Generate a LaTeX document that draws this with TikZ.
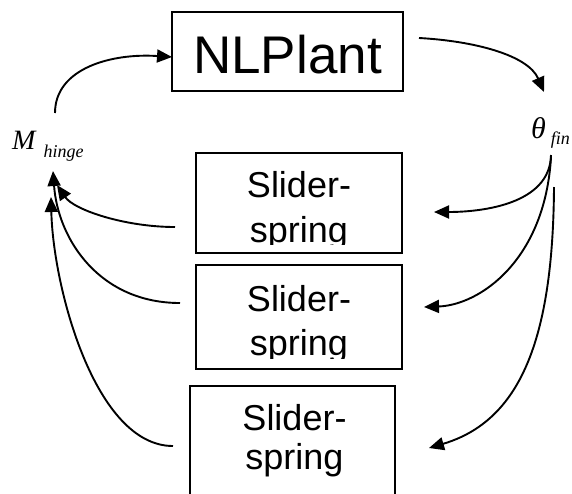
\documentclass[tikz,border=0pt]{standalone}
\usepackage{fontspec}
\setmainfont{Liberation Sans}
\newfontfamily\serifit{Liberation Serif}
\usetikzlibrary{arrows.meta}
\begin{document}
\begin{tikzpicture}[x=1pt,y=-1pt,
  conn/.style={line width=1.9pt,-{Triangle[length=15pt,width=13pt]}},
  blockbox/.style={draw,line width=1.4pt,inner sep=0pt},
  txt/.style={inner sep=0pt,anchor=base,font=\fontsize{36}{40}\selectfont},
  var/.style={inner sep=0pt,anchor=base west}]
\useasboundingbox (0,0) rectangle (572,493);

% blocks
\node[blockbox,minimum width=231pt,minimum height=79pt] (plant) at (287.5,51.5) {};
\node[inner sep=0pt,anchor=base,font=\fontsize{53}{60}\selectfont] (plantt) at (287.5,73) {NLPlant};

\node[blockbox,minimum width=206pt,minimum height=100pt] (b1) at (299,203) {};
\node[blockbox,minimum width=206pt,minimum height=104pt] (b2) at (299,317) {};
\node[blockbox,minimum width=205pt,minimum height=130pt] (b3) at (292.5,451) {};

\begin{scope}
  \clip (196,153) rectangle (402,244);
  \node[txt] (b1a) at (299,197) {Slider-};
  \node[txt] (b1b) at (299,242) {spring};
\end{scope}
\begin{scope}
  \clip (196,265) rectangle (402,358);
  \node[txt] (b2a) at (299,311) {Slider-};
  \node[txt] (b2b) at (299,355) {spring};
\end{scope}
\node[txt] (b3a) at (294.5,430) {Slider-};
\node[txt] (b3b) at (294.5,469) {spring};

% variable labels
\node[var] (mh) at (12,149) {\serifit\itshape\fontsize{28}{28}\selectfont M\kern8pt\raisebox{-8pt}{\fontsize{18}{18}\selectfont hinge}};
\node[var] (th) at (531,138) {\serifit\itshape\fontsize{30}{30}\selectfont θ\kern5pt\raisebox{-6pt}{\fontsize{18}{18}\selectfont fin}};

% connector end points
\coordinate (mtop) at (55,113);
\coordinate (plantin) at (172,57);
\coordinate (plantout) at (419,38);
\coordinate (thin) at (544,92);
\coordinate (thA) at (551,155);
\coordinate (thB) at (551,157);
\coordinate (thC) at (554,187);
\coordinate (in1) at (434,212);
\coordinate (in2) at (424,307);
\coordinate (in3) at (429,448);
\coordinate (out1) at (175,227);
\coordinate (out2) at (180,303);
\coordinate (out3) at (173,446);
\coordinate (mA) at (57,185);
\coordinate (mB) at (53,171);
\coordinate (mC) at (51,197);

% connectors
\draw[conn] (mtop) .. controls (55,68) and (112,53) .. (plantin);
\draw[conn] (plantout) .. controls (474,41) and (528,55) .. (thin);
\draw[conn] (thA) .. controls (550,205) and (480,212) .. (in1);
\draw[conn] (thB) .. controls (545,260) and (480,305) .. (in2);
\draw[conn] (thC) .. controls (553,340) and (520,421) .. (in3);
\draw[conn] (out1) .. controls (125,227) and (74,210) .. (mA);
\draw[conn] (out2) .. controls (100,303) and (58,240) .. (mB);
\draw[conn] (out3) .. controls (95,446) and (53,287) .. (mC);
\end{tikzpicture}
\end{document}
